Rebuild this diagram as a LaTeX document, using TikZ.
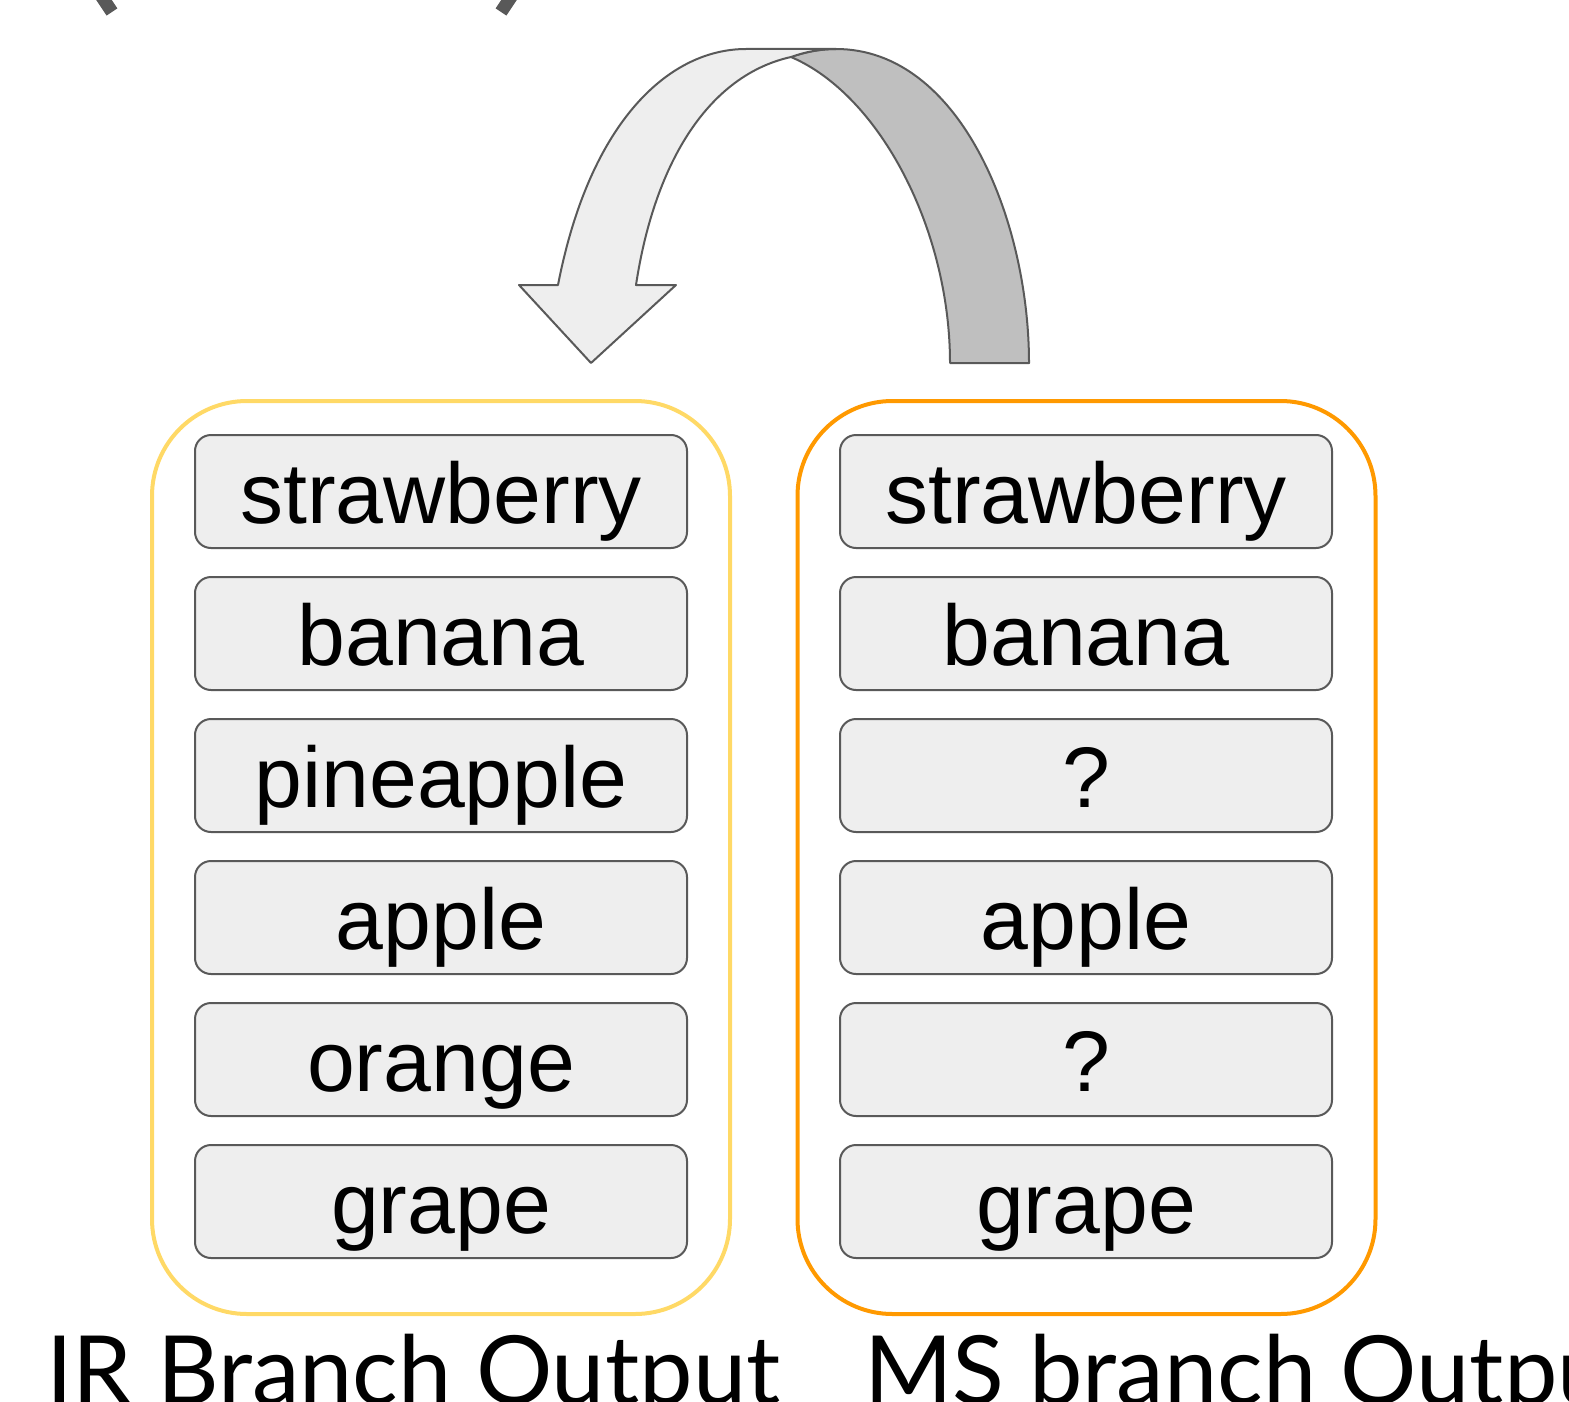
\documentclass[tikz,border=0pt]{standalone}
\usepackage{fontspec}
\setmainfont{Liberation Sans}
\newfontfamily\labelfont{Lato}
\definecolor{edgegrey}{HTML}{595959}
\definecolor{lightfill}{HTML}{EEEEEE}
\definecolor{darkfill}{HTML}{BFBFBF}
\definecolor{irstroke}{HTML}{FFD966}
\definecolor{msstroke}{HTML}{FF9900}
\begin{document}
\begin{tikzpicture}[x=1pt,y=-1pt,
  itembox/.style={draw=edgegrey, line width=2pt, fill=lightfill, rounded corners=16pt,
    minimum width=492pt, minimum height=113pt, inner sep=0pt,
    text height=63pt, text depth=0pt,
    font=\fontsize{86}{100}\selectfont},
  container/.style={draw=#1, line width=4pt, rounded corners=95pt,
    minimum width=578pt, minimum height=913pt, inner sep=0pt},
  caption/.style={anchor=base west, inner sep=0pt, font=\labelfont\fontsize{95.5}{110}\selectfont},
  ribbon/.style={draw=edgegrey, line width=2pt, line join=round}
]
\useasboundingbox (0,0) rectangle (1569,1402);
\clip (0,0) rectangle (1569,1402);

% fragments of parentheses at the top edge
\draw[edgegrey, line width=13pt] (100,-6) -- (112,12);
\draw[edgegrey, line width=13pt] (513,-6) -- (501,12);

% containers
\node[container=irstroke] (irbox) at (441,857.5) {};
\node[container=msstroke] (msbox) at (1086.5,857.5) {};

% IR items
\node[itembox] (ir1) at (441,491.5) {strawberry};
\node[itembox] (ir2) at (441,633.5) {banana};
\node[itembox] (ir3) at (441,775.5) {pineapple};
\node[itembox] (ir4) at (441,917.5) {apple};
\node[itembox] (ir5) at (441,1059.5) {orange};
\node[itembox] (ir6) at (441,1201.5) {grape};

% MS items
\node[itembox] (ms1) at (1086,491.5) {strawberry};
\node[itembox] (ms2) at (1086,633.5) {banana};
\node[itembox] (ms3) at (1086,775.5) {?};
\node[itembox] (ms4) at (1086,917.5) {apple};
\node[itembox] (ms5) at (1086,1059.5) {?};
\node[itembox] (ms6) at (1086,1201.5) {grape};

% captions
\node[caption] (ircap) at (46,1404) {IR Branch Output};
\node[caption] (mscap) at (864,1404) {MS branch Output};

% curved arrow: back (dark) part
\draw[ribbon, fill=darkfill]
  (791,57) .. controls (805,52) and (820,49) .. (836,49)
  .. controls (960,49) and (1029,220) .. (1029,363)
  -- (950,363)
  .. controls (950,230) and (880,95) .. (791,57) -- cycle;
% front (light) part with arrow head
\draw[ribbon, fill=lightfill]
  (558,285) .. controls (590,120) and (670,49) .. (746,49)
  -- (836,49)
  .. controls (820,49) and (805,52) .. (791,57)
  .. controls (710,75) and (655,160) .. (636,285)
  -- (676,285) -- (591,363) -- (519,285) -- cycle;
\end{tikzpicture}
\end{document}
